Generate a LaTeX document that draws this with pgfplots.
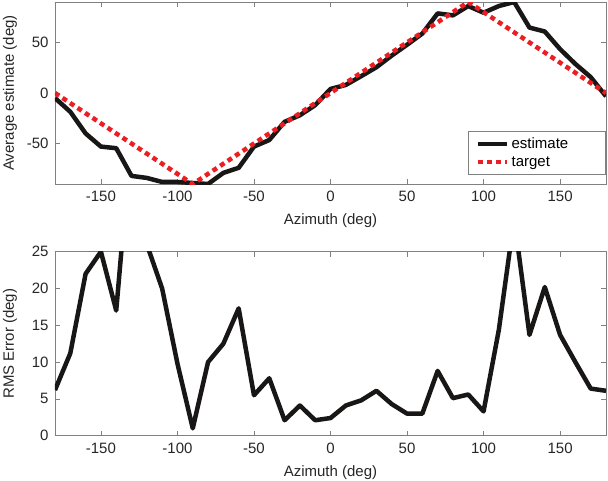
\documentclass[border=0pt]{standalone}
\usepackage{fontspec}
\setmainfont{Liberation Sans}
\usepackage{pgfplots}
\pgfplotsset{compat=1.18}
\definecolor{tgt}{RGB}{235,30,35}
\definecolor{est}{RGB}{25,22,22}
\pgfplotsset{myax/.style={
  scale only axis, width=551bp,
  xmin=-180, xmax=180,
  xtick={-150,-100,...,150},
  axis line style={gray, line width=0.7bp},
  tick style={gray, line width=0.7bp},
  major tick length=5bp, tick align=inside,
  /pgf/number format/assume math mode=true,
  ticklabel style={font=\fontsize{15bp}{18bp}\selectfont, text=black!85},
  label style={font=\fontsize{15bp}{18bp}\selectfont, text=black!85},
  xticklabel style={yshift=-4bp},
  yticklabel style={xshift=-3bp},
  xlabel={Azimuth (deg)},
  xlabel style={at={(axis description cs:0.5,0)}, anchor=center, yshift=-36.5bp},
  ylabel style={at={(axis description cs:-0.0817,0.5)}, anchor=center},
}}
\begin{document}
\begin{tikzpicture}
\begin{axis}[myax, height=182bp,
  ymin=-90, ymax=90, ytick={-50,0,50},
  ylabel={Average estimate (deg)},
  legend style={at={(1,0.05)}, anchor=south east, draw=gray, line width=0.7bp,
    font=\fontsize{15bp}{18bp}\selectfont, inner xsep=8bp, inner ysep=5bp, row sep=2bp,
    nodes={text width=84bp, align=left, inner sep=2bp}},
  legend cell align=left,
  legend image code/.code={\draw[#1] (0bp,0bp) -- (29bp,0bp);},
]
\addplot[est, line width=4.5bp, line join=round] coordinates {
(-180,-5) (-170,-18.6) (-160,-40) (-150,-53) (-140,-54.6) (-130,-82) (-120,-84)
(-110,-88) (-100,-88) (-90,-89) (-80,-90) (-70,-79) (-60,-74) (-50,-53) (-40,-46.5)
(-30,-28.5) (-20,-22) (-10,-12) (0,4) (10,8) (20,16.6) (30,25.5) (40,37) (50,47.7)
(60,58.8) (70,78.7) (80,76.8) (90,86) (100,79.4) (110,86) (120,90) (130,64.7)
(140,60.8) (150,43.4) (160,28.7) (170,15.7) (180,-3.3)
};
\addlegendentry{estimate}
\addplot[tgt, line width=4.5bp, dash pattern=on 5bp off 4bp] coordinates {
(-180,0) (-90,-90) (90,90) (180,0)
};
\addlegendentry{target}
\end{axis}
\begin{axis}[myax, height=184bp, at={(0bp,-251.7bp)},
  ymin=0, ymax=25, ytick={0,5,...,25},
  ylabel={RMS Error (deg)},
]
\addplot[est, line width=4.5bp, line join=round] coordinates {
(-180,6.2) (-170,11.2) (-160,22) (-150,25) (-140,17) (-130,41) (-120,26)
(-110,20) (-100,9.8) (-90,1) (-80,10) (-70,12.5) (-60,17.3) (-50,5.5) (-40,7.8)
(-30,2.1) (-20,4.1) (-10,2.1) (0,2.4) (10,4.1) (20,4.8) (30,6.1) (40,4.3) (50,3.0)
(60,3.0) (70,8.8) (80,5.1) (90,5.6) (100,3.3) (110,14.4) (120,29.5) (130,13.7)
(140,20.2) (150,13.7) (160,10) (170,6.4) (180,6.1)
};
\end{axis}
\pgfresetboundingbox
\path (-55bp,-297bp) rectangle (553bp,184bp);
\end{tikzpicture}
\end{document}
